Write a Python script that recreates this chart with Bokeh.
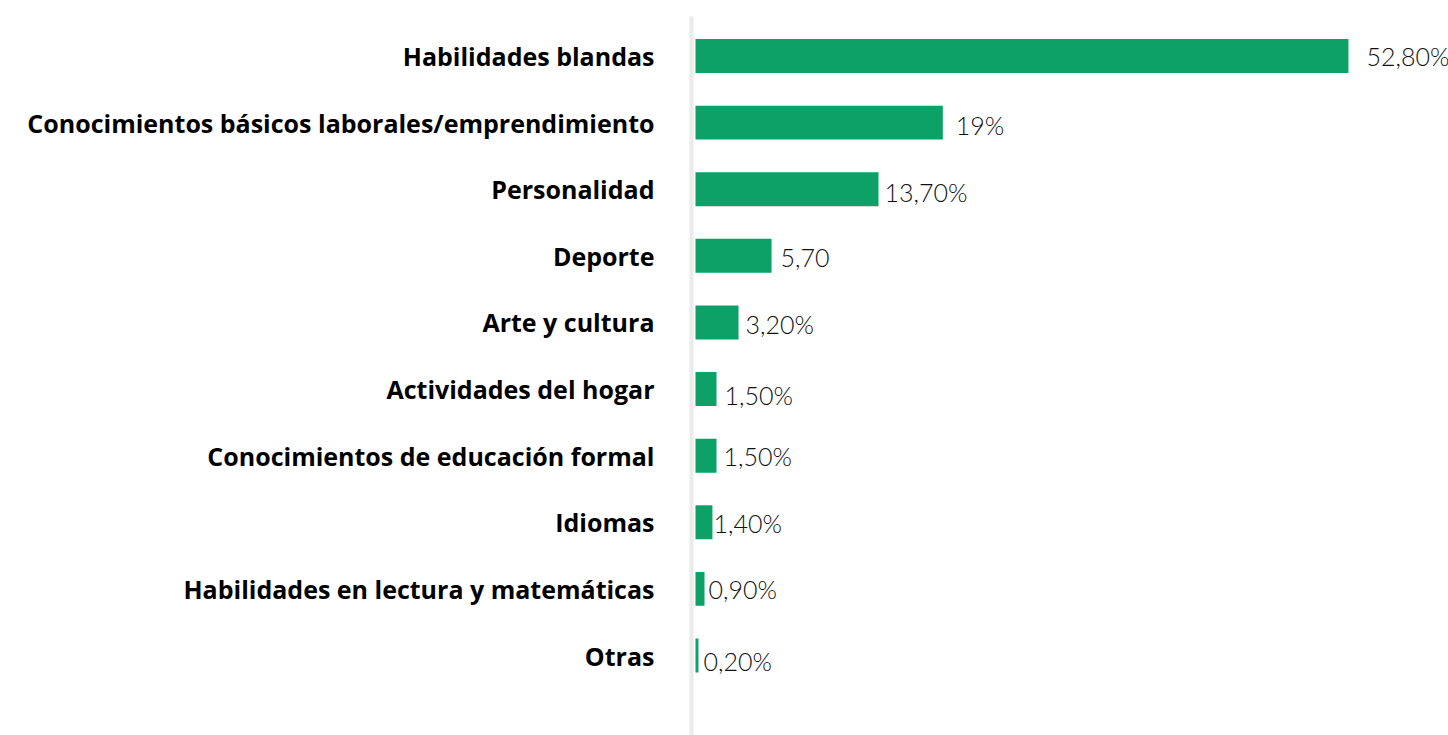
from bokeh.plotting import figure
from bokeh.models import Range1d, FixedTicker, ColumnDataSource
from bokeh.core.properties import value
from bokeh.embed import file_html
from bokeh.resources import INLINE

# ---- data ----
categories = [
    "Habilidades blandas",
    "Conocimientos básicos laborales/emprendimiento",
    "Personalidad",
    "Deporte",
    "Arte y cultura",
    "Actividades del hogar",
    "Conocimientos de educación formal",
    "Idiomas",
    "Habilidades en lectura y matemáticas",
    "Otras",
]
bar_values = [52.8, 20.0, 14.8, 6.15, 3.48, 1.7, 1.7, 1.37, 0.73, 0.24]
value_labels = ["52,80%", "19%", "13,70%", "5,70", "3,20%", "1,50%", "1,50%", "1,40%", "0,90%", "0,20%"]

# ---- label placement (pixels, style only) ----
label_dx = [18, 13, 6, 9, 7, 8, 7, 1, 4, 5]
label_dy = [0, 2, 3, 2, 2, 6, 0, 1, 0, 5]

n = len(categories)
ypos = [n - 1 - i for i in range(n)]

src = ColumnDataSource(dict(y=ypos, v=bar_values, lab=value_labels, dx=label_dx, dy=label_dy))

W, H = 1448, 735
p = figure(width=W, height=H, output_backend="svg", toolbar_location=None,
           x_range=Range1d(-0.323, 60.89), y_range=Range1d(-1.201, 9.593),
           min_border_left=691, min_border_right=0, min_border_top=16, min_border_bottom=0)

p.hbar(y="y", right="v", left=0, height=0.51, source=src, color="#0da168", line_color=None)

p.text(x="v", y="y", text="lab", x_offset="dx", y_offset="dy", source=src,
       text_font=value("Lato Light"), text_font_size="25px", text_color="#111111",
       text_align="left", text_baseline="middle")

p.xaxis.visible = False
p.xgrid.visible = False
p.ygrid.visible = False
p.outline_line_color = None

ya = p.yaxis[0]
ya.ticker = FixedTicker(ticks=ypos)
ya.major_label_overrides = {y: c for y, c in zip(ypos, categories)}
ya.axis_line_color = "#ebebeb"
ya.axis_line_width = 4
ya.major_tick_line_color = None
ya.minor_tick_line_color = None
ya.major_tick_out = 0
ya.major_tick_in = 0
ya.major_label_standoff = 37
ya.major_label_text_font = "Open Sans"
ya.major_label_text_font_style = "bold"
ya.major_label_text_font_size = "25px"
ya.major_label_text_color = "#000000"

open("out.html", "w").write(file_html(p, INLINE))
